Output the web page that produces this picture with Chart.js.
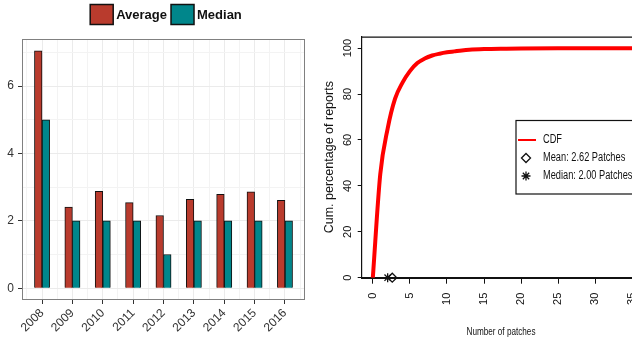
<!DOCTYPE html>
<html>
<head>
<meta charset="utf-8">
<script src="https://cdn.jsdelivr.net/npm/chart.js@4.4.1/dist/chart.umd.min.js"></script>
<style>
  html, body { margin: 0; padding: 0; background: #fff; width: 632px; height: 343px; overflow: hidden; position: relative; }
  canvas { position: absolute; top: 0; }
  #barChart { left: 0; }
  #cdfChart { left: 316px; }
</style>
</head>
<body>
<canvas id="barChart" width="316" height="343"></canvas>
<canvas id="cdfChart" width="340" height="343"></canvas>
<script>
    // left panel: patches per report by year
    var years = ['2008', '2009', '2010', '2011', '2012', '2013', '2014', '2015', '2016'];
    var averageValues = [7.05, 2.41, 2.88, 2.54, 2.16, 2.64, 2.79, 2.86, 2.61];
    var medianValues = [5, 2, 2, 2, 1, 2, 2, 2, 2];
    var barYTicks = [0, 1, 2, 3, 4, 5, 6, 7];
    var barYLabels = [0, 2, 4, 6];

    // right panel: cumulative distribution
    var cdfPatches = [0, 1, 2, 3, 4, 5, 6, 7, 8, 9, 10, 11, 12, 13, 15, 18, 20, 25, 30, 35];
    var cdfPercent = [0, 45, 65, 78, 85, 90, 93.5, 95.5, 96.8, 97.6, 98.2, 98.6, 99, 99.3, 99.6, 99.8, 99.9, 100, 100, 100];
    var meanPatches = 2.62;
    var medianPatches = 2.00;
    var cdfXTicks = [0, 5, 10, 15, 20, 25, 30, 35];
    var cdfYTicks = [0, 20, 40, 60, 80, 100];
    var cdfXTitle = 'Number of patches';

    var RED = '#b93b2d';
    var TEAL = '#00868b';
    var SANS = "'Liberation Sans', Arial, sans-serif";

    // ggplot style legend above the panel + grey panel border
    var barDecor = {
        id: 'barDecor',
        afterDraw: function (chart) {
            var ctx = chart.ctx;
            var a = chart.chartArea;
            ctx.save();
            ctx.strokeStyle = '#808080';
            ctx.lineWidth = 1;
            ctx.strokeRect(a.left + 0.5, a.top + 0.5, a.right - a.left - 1, a.bottom - a.top - 1);

            ctx.font = 'bold 13px ' + SANS;
            ctx.textBaseline = 'middle';
            var sets = chart.data.datasets;
            var total = 0;
            sets.forEach(function (d, i) {
                total += 23 + 3 + ctx.measureText(d.label).width + (i ? 4 : 0);
            });
            var x = 166 - total / 2;
            sets.forEach(function (d) {
                ctx.fillStyle = d.backgroundColor;
                ctx.fillRect(x, 4.5, 23, 20);
                ctx.strokeStyle = '#111';
                ctx.lineWidth = 1.5;
                ctx.strokeRect(x, 4.5, 23, 20);
                ctx.fillStyle = '#111';
                ctx.fillText(d.label, x + 26, 15);
                x += 26 + ctx.measureText(d.label).width + 4;
            });
            ctx.restore();
        }
    };

    new Chart(document.getElementById('barChart'), {
        type: 'bar',
        data: {
            datasets: [{
                label: 'Average',
                data: years.map(function (y, i) { return {x: i, y: averageValues[i]}; }),
                backgroundColor: RED,
                borderColor: '#111',
                borderWidth: 1,
                categoryPercentage: 1,
                barPercentage: 1
            }, {
                label: 'Median',
                data: years.map(function (y, i) { return {x: i, y: medianValues[i]}; }),
                backgroundColor: TEAL,
                borderColor: '#111',
                borderWidth: 1,
                categoryPercentage: 1,
                barPercentage: 1
            }]
        },
        options: {
            responsive: false,
            animation: false,
            devicePixelRatio: 1,
            layout: {padding: {top: 39, right: 11, left: 0, bottom: 0}},
            plugins: {legend: {display: false}, tooltip: {enabled: false}},
            scales: {
                x: {
                    type: 'linear',
                    min: -0.66,
                    max: years.length - 0.34,
                    offset: false,
                    afterBuildTicks: function (s) {
                        var t = [];
                        years.forEach(function (y, i) { t.push({value: i - 0.5}); t.push({value: i}); });
                        t.push({value: years.length - 0.5});
                        s.ticks = t;
                    },
                    afterFit: function (s) { s.height = 43; },
                    grid: {
                        offset: false,
                        tickLength: 4,
                        color: function (c) { return Number.isInteger(c.tick.value) ? '#ebebeb' : '#f3f3f3'; },
                        tickColor: function (c) { return Number.isInteger(c.tick.value) ? '#333' : 'rgba(0,0,0,0)'; }
                    },
                    border: {display: false},
                    ticks: {
                        autoSkip: false,
                        minRotation: 45,
                        maxRotation: 45,
                        padding: 2,
                        color: '#333',
                        font: {family: SANS, size: 12},
                        callback: function (v) { return Number.isInteger(v) ? years[v] : ''; }
                    }
                },
                y: {
                    min: -0.35,
                    max: 7.4,
                    afterBuildTicks: function (s) {
                        s.ticks = barYTicks.map(function (v) { return {value: v}; });
                    },
                    afterFit: function (s) { s.width = 22; },
                    grid: {
                        tickLength: 4,
                        color: function (c) { return c.tick.value % 2 === 0 ? '#ebebeb' : '#f3f3f3'; },
                        tickColor: function (c) { return c.tick.value % 2 === 0 ? '#333' : 'rgba(0,0,0,0)'; }
                    },
                    border: {display: false},
                    ticks: {
                        padding: 4,
                        color: '#333',
                        font: {family: SANS, size: 12},
                        callback: function (v) { return barYLabels.indexOf(v) >= 0 ? String(v) : ''; }
                    }
                }
            }
        },
        plugins: [barDecor]
    });

    // base-R look: box top/right, narrow x title and legend inside the plot
    var cdfDecor = {
        id: 'cdfDecor',
        afterDraw: function (chart) {
            var ctx = chart.ctx;
            var a = chart.chartArea;
            ctx.save();
            ctx.strokeStyle = '#111';
            ctx.lineWidth = 1.2;
            ctx.beginPath();
            ctx.moveTo(a.left, a.top + 0.5);
            ctx.lineTo(a.right, a.top + 0.5);
            ctx.lineTo(a.right, a.bottom);
            ctx.stroke();

            // x axis title, condensed like the R output
            ctx.save();
            ctx.font = '11.5px ' + SANS;
            ctx.fillStyle = '#111';
            ctx.textAlign = 'center';
            ctx.textBaseline = 'middle';
            ctx.translate(185, 331.5);
            ctx.scale(0.71, 1);
            ctx.fillText(cdfXTitle, 0, 0);
            ctx.restore();

            // legend box
            var lx = 200, ly = 120.5;
            ctx.fillStyle = '#fff';
            ctx.strokeStyle = '#111';
            ctx.lineWidth = 1.2;
            ctx.fillRect(lx, ly, 200, 73.5);
            ctx.strokeRect(lx, ly, 200, 73.5);
            var sets = chart.data.datasets;
            sets.forEach(function (d, i) {
                var cy = 140 + i * 18;
                var cx = lx + 10;
                if (i === 0) {
                    ctx.strokeStyle = d.borderColor;
                    ctx.lineWidth = 2;
                    ctx.beginPath();
                    ctx.moveTo(lx + 2, cy);
                    ctx.lineTo(lx + 20, cy);
                    ctx.stroke();
                } else {
                    ctx.fillStyle = 'rgba(0,0,0,0)';
                    ctx.strokeStyle = '#111';
                    ctx.lineWidth = d.pointBorderWidth;
                    Chart.helpers.drawPoint(ctx, {
                        pointStyle: d.pointStyle, radius: 4.5, rotation: 0, borderWidth: d.pointBorderWidth
                    }, cx, cy);
                }
                ctx.save();
                ctx.font = '12.5px ' + SANS;
                ctx.fillStyle = '#111';
                ctx.textBaseline = 'middle';
                ctx.translate(lx + 27, cy);
                ctx.scale(0.74, 1);
                ctx.fillText(d.label, 0, 0);
                ctx.restore();
            });
            ctx.restore();
        }
    };

    new Chart(document.getElementById('cdfChart'), {
        type: 'line',
        data: {
            datasets: [{
                label: 'CDF',
                data: cdfPatches.map(function (x, i) { return {x: x, y: cdfPercent[i]}; }),
                borderColor: '#ff0000',
                borderWidth: 4,
                pointRadius: 0,
                cubicInterpolationMode: 'monotone',
                clip: false
            }, {
                label: 'Mean: ' + meanPatches.toFixed(2) + ' Patches',
                data: [{x: meanPatches, y: 0}],
                showLine: false,
                pointStyle: 'rectRot',
                pointRadius: 4.5,
                pointBackgroundColor: 'rgba(0,0,0,0)',
                pointBorderColor: '#111',
                pointBorderWidth: 1.3,
                clip: false
            }, {
                label: 'Median: ' + medianPatches.toFixed(2) + ' Patches',
                data: [{x: medianPatches, y: 0}],
                showLine: false,
                pointStyle: 'star',
                pointRadius: 4.5,
                pointBorderColor: '#111',
                pointBorderWidth: 1.3,
                clip: false
            }]
        },
        options: {
            responsive: false,
            animation: false,
            devicePixelRatio: 1,
            layout: {padding: {top: 36.7, right: 0, left: 0, bottom: 0}},
            plugins: {legend: {display: false}, tooltip: {enabled: false}},
            scales: {
                x: {
                    type: 'linear',
                    min: -1.5,
                    max: 37.4,
                    afterBuildTicks: function (s) {
                        s.ticks = cdfXTicks.map(function (v) { return {value: v}; });
                    },
                    afterFit: function (s) { s.height = 65.3; },
                    grid: {drawOnChartArea: false, tickLength: 6, color: '#111', tickColor: '#111'},
                    border: {display: true, color: '#111', width: 2},
                    ticks: {
                        autoSkip: false,
                        minRotation: 90,
                        maxRotation: 90,
                        padding: 9,
                        color: '#111',
                        font: {family: SANS, size: 11}
                    }
                },
                y: {
                    min: 0,
                    max: 105,
                    afterBuildTicks: function (s) {
                        s.ticks = cdfYTicks.map(function (v) { return {value: v}; });
                    },
                    afterFit: function (s) { s.width = 45.7; },
                    grid: {drawOnChartArea: false, tickLength: 4, color: '#111', tickColor: '#111'},
                    border: {display: true, color: '#111', width: 1.2},
                    ticks: {
                        minRotation: 90,
                        maxRotation: 90,
                        crossAlign: 'center',
                        padding: 1,
                        color: '#111',
                        font: {family: SANS, size: 11}
                    },
                    title: {
                        display: true,
                        text: 'Cum. percentage of reports',
                        color: '#111',
                        font: {family: SANS, size: 12.5},
                        padding: {top: 6, bottom: 0}
                    }
                }
            }
        },
        plugins: [cdfDecor]
    });
</script>
</body>
</html>
